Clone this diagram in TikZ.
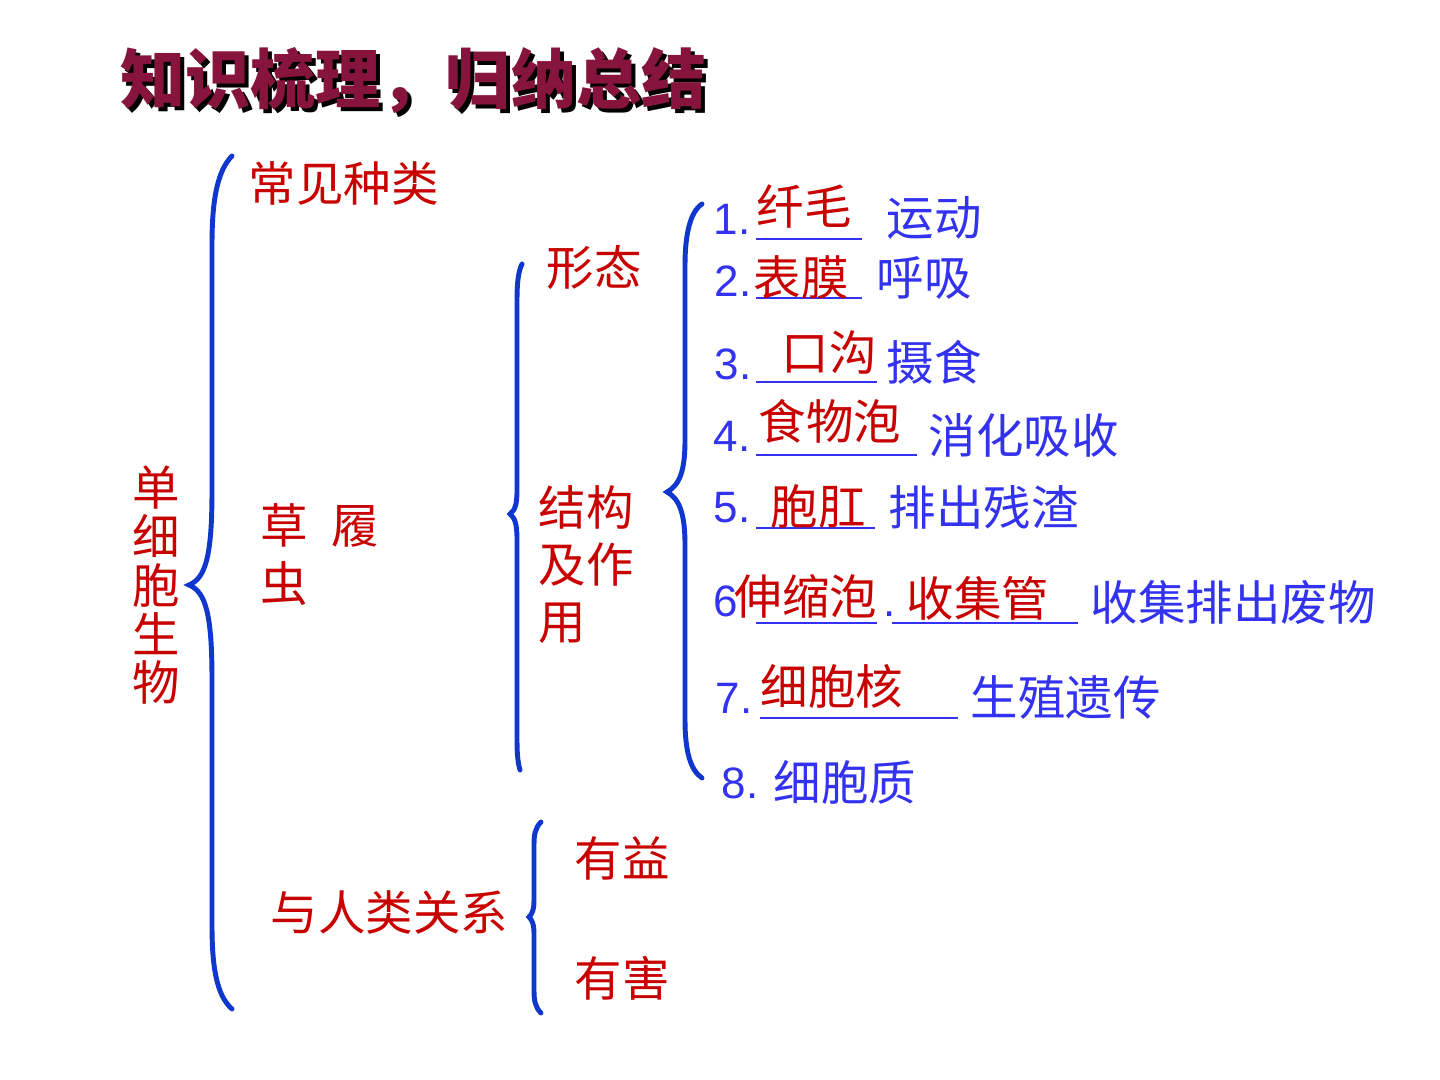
\documentclass[tikz,border=0pt]{standalone}
\usepackage{fontspec}
\setmainfont{Liberation Sans}
\newfontfamily\cjk{Noto Sans CJK SC}

\definecolor{braceblue}{RGB}{15,55,205}
\definecolor{txtblue}{RGB}{50,50,240}
\definecolor{txtred}{RGB}{200,0,0}
\definecolor{titlered}{RGB}{135,20,60}

\begin{document}
\begin{tikzpicture}[x=0.01cm, y=-0.01cm]
                \tikzset{
                    redtxt/.style={inner sep=0pt, anchor=west, text=txtred, font=\cjk\fontsize{13.5}{16}\selectfont},
                    bluetxt/.style={inner sep=0pt, anchor=west, text=txtblue, font=\cjk\fontsize{13.5}{16}\selectfont},
                    numtxt/.style={inner sep=0pt, anchor=base west, text=txtblue, font=\fontsize{12.5}{14}\selectfont},
                    bracket/.style={draw=braceblue, line width=1.4pt, line cap=round},
                    blank/.style={draw=txtblue, line width=0.7pt}
                }
                \fill[white] (0,0) rectangle (1440,1080);
                \useasboundingbox (0,0) rectangle (1440,1080);

                % title with shadow
                \node[inner sep=0pt, anchor=west, text=black, font=\cjk\bfseries\fontsize{18.5}{22}\selectfont] (titleshadow) at (124,85) {知识梳理，归纳总结};
                \node[inner sep=0pt, anchor=west, text=titlered, font=\cjk\bfseries\fontsize{18.5}{22}\selectfont] (title) at (120,81) {知识梳理，归纳总结};

                % left column
                \node[redtxt, anchor=north, align=center, font=\cjk\fontsize{13.5}{13.9}\selectfont] (dxbsw) at (156,465) {单\\细\\胞\\生\\物};
                \node[redtxt] (zhonglei) at (248,183) {常见种类};
                \node[redtxt, anchor=north west, align=left, font=\cjk\fontsize{13.5}{16.5}\selectfont] (clc) at (260,503) {草\hspace{0.5em}履\\虫};
                \node[redtxt] (guanxi) at (270,912) {与人类关系};
                \node[redtxt] (xingtai) at (546,268) {形态};
                \node[redtxt, anchor=north west, align=left, font=\cjk\fontsize{13.5}{16.2}\selectfont] (jiegou) at (538,485) {结构\\及作\\用};
                \node[redtxt] (youyi) at (574,858) {有益};
                \node[redtxt] (youhai) at (574,978) {有害};

                % braces
                \draw[bracket] (232,156) .. controls (216,172) and (212,205) .. (212,245) -- (212,490)
                    .. controls (212,555) and (206,578) .. (189,585)
                    .. controls (206,592) and (212,615) .. (212,680) -- (212,925)
                    .. controls (212,965) and (216,995) .. (232,1009);
                \draw[bracket] (522,264) .. controls (518,272) and (517,285) .. (517,300) -- (517,490)
                    .. controls (517,505) and (515,510) .. (510,514)
                    .. controls (515,518) and (517,524) .. (517,540) -- (517,740)
                    .. controls (517,755) and (518,763) .. (520,770);
                \draw[bracket] (702,204) .. controls (690,212) and (685,235) .. (685,265) -- (685,440)
                    .. controls (685,470) and (680,485) .. (667,492)
                    .. controls (680,499) and (685,515) .. (685,545) -- (685,720)
                    .. controls (685,750) and (690,770) .. (702,778);
                \draw[bracket] (541,822) .. controls (535,828) and (534,835) .. (534,845) -- (534,900)
                    .. controls (534,910) and (532,914) .. (529,917)
                    .. controls (532,920) and (534,924) .. (534,934) -- (534,990)
                    .. controls (534,1000) and (535,1007) .. (541,1013);

                % numbered list
                \node[numtxt] (n1) at (713,235) {1.};
                \node[numtxt] (n2) at (714,297) {2.};
                \node[numtxt] (n3) at (714,380) {3.};
                \node[numtxt] (n4) at (713,452) {4.};
                \node[numtxt] (n5) at (713,523) {5.};
                \node[numtxt] (n6) at (713,617) {6};
                \node[numtxt] (n6dot) at (883,617) {.};
                \node[numtxt] (n7) at (715,713) {7.};
                \node[numtxt] (n8) at (721,798) {8.};
                \foreach \xa/\xb/\y in {%
                    756/862/239, 756/862/298, 756/877/382, 756/917/455, 756/875/528, 756/877/623, 892/1078/623, 760/958/718%
                }{
                \draw[blank] (\xa,\y) -- (\xb,\y);
                }
                \node[redtxt] (a1) at (756,207) {纤毛};
                \node[redtxt] (a2) at (753,278) {表膜};
                \node[redtxt] (a3) at (781,353) {口沟};
                \node[redtxt] (a4) at (758,421) {食物泡};
                \node[redtxt] (a5) at (770,507) {胞肛};
                \node[redtxt] (a6) at (734,596) {伸缩泡};
                \node[redtxt] (a6b) at (906,598) {收集管};
                \node[redtxt] (a7) at (760,686) {细胞核};
                \node[bluetxt] (d1) at (886,218) {运动};
                \node[bluetxt] (d2) at (876,278) {呼吸};
                \node[bluetxt] (d3) at (886,362) {摄食};
                \node[bluetxt] (d4) at (928,435) {消化吸收};
                \node[bluetxt] (d5) at (888,507) {排出残渣};
                \node[bluetxt] (d6) at (1090,603) {收集排出废物};
                \node[bluetxt] (d7) at (970,698) {生殖遗传};
                \node[bluetxt] (d8) at (773,782) {细胞质};
            \end{tikzpicture}
\end{document}
